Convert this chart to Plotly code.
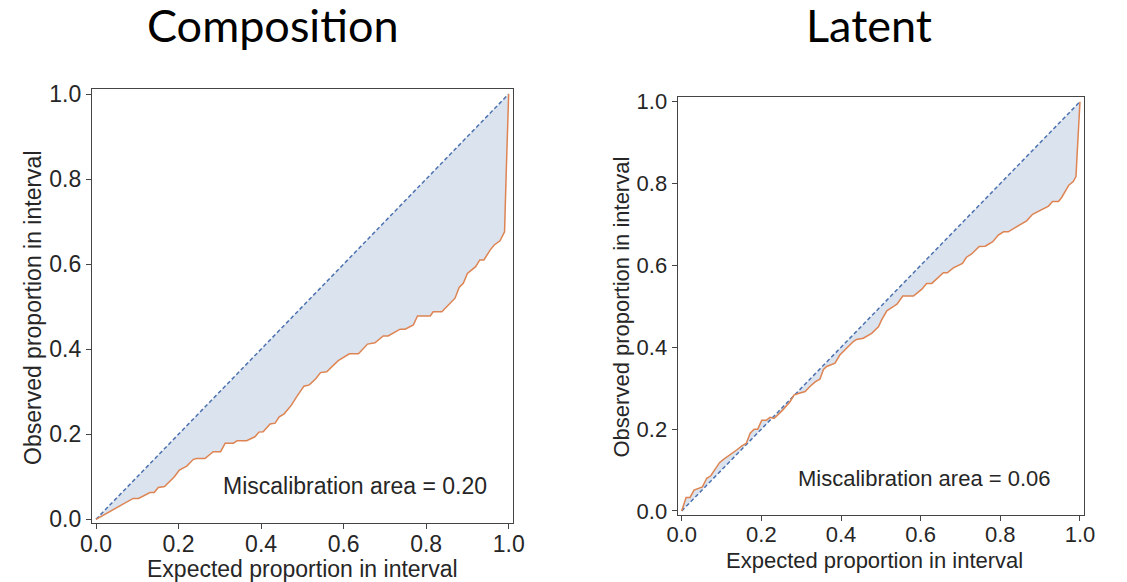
import plotly.graph_objects as go

# The page body adds an 8px margin, so the figure is drawn 8px in from the top-left corner.
OFF = 8
W, H = 1127 - OFF, 582 - OFF

# ---- data ----
diag = [0.0, 1.0]

comp_x = [0, 0.09, 0.103, 0.131, 0.141, 0.151, 0.166, 0.179, 0.19, 0.202, 0.22, 0.236, 0.244, 0.264,
          0.272, 0.284, 0.302, 0.313, 0.333, 0.342, 0.365, 0.385, 0.395, 0.405, 0.422, 0.434, 0.444,
          0.456, 0.474, 0.486, 0.504, 0.517, 0.533, 0.544, 0.559, 0.575, 0.587, 0.614, 0.636, 0.658,
          0.676, 0.696, 0.708, 0.737, 0.749, 0.769, 0.779, 0.81, 0.817, 0.838, 0.854, 0.87, 0.88,
          0.89, 0.9, 0.91, 0.92, 0.93, 0.94, 0.955, 0.965, 0.979, 0.985, 0.99, 0.994, 1.0]
comp_y = [0, 0.049, 0.049, 0.063, 0.063, 0.075, 0.077, 0.089, 0.10, 0.116, 0.125, 0.141, 0.143, 0.143,
          0.149, 0.159, 0.159, 0.179, 0.179, 0.185, 0.185, 0.194, 0.205, 0.206, 0.224, 0.226, 0.241,
          0.248, 0.269, 0.288, 0.313, 0.316, 0.331, 0.345, 0.347, 0.363, 0.373, 0.389, 0.389, 0.412,
          0.415, 0.431, 0.431, 0.447, 0.447, 0.457, 0.478, 0.478, 0.488, 0.488, 0.504, 0.52, 0.545,
          0.555, 0.578, 0.586, 0.594, 0.61, 0.61, 0.633, 0.645, 0.655, 0.665, 0.676, 0.813, 1.0]

lat_x = [0, 0.011, 0.021, 0.031, 0.052, 0.063, 0.073, 0.095, 0.105, 0.117, 0.126, 0.138, 0.151, 0.162,
         0.172, 0.182, 0.191, 0.201, 0.213, 0.222, 0.232, 0.251, 0.272, 0.282, 0.293, 0.31, 0.322,
         0.336, 0.347, 0.356, 0.364, 0.385, 0.397, 0.408, 0.418, 0.431, 0.439, 0.456, 0.477, 0.494,
         0.502, 0.515, 0.531, 0.541, 0.555, 0.582, 0.603, 0.615, 0.628, 0.644, 0.657, 0.667, 0.682,
         0.705, 0.715, 0.728, 0.747, 0.762, 0.781, 0.795, 0.808, 0.82, 0.845, 0.866, 0.881, 0.9,
         0.921, 0.931, 0.946, 0.954, 0.965, 0.972, 0.983, 0.99, 0.993, 1.0]
lat_y = [0, 0.033, 0.033, 0.051, 0.059, 0.080, 0.086, 0.118, 0.126, 0.134, 0.141, 0.149, 0.159, 0.165,
         0.19, 0.2, 0.2, 0.222, 0.222, 0.229, 0.226, 0.244, 0.267, 0.283, 0.287, 0.292, 0.304,
         0.316, 0.322, 0.346, 0.353, 0.361, 0.381, 0.392, 0.401, 0.414, 0.419, 0.422, 0.434, 0.45,
         0.467, 0.489, 0.499, 0.506, 0.525, 0.525, 0.542, 0.556, 0.556, 0.57, 0.582, 0.582, 0.594,
         0.605, 0.62, 0.628, 0.646, 0.647, 0.658, 0.674, 0.682, 0.682, 0.697, 0.709, 0.725, 0.734,
         0.745, 0.756, 0.756, 0.766, 0.784, 0.796, 0.805, 0.817, 0.874, 1.0]

tick_vals = [0.0, 0.2, 0.4, 0.6, 0.8, 1.0]
tick_text = ["0.0", "0.2", "0.4", "0.6", "0.8", "1.0"]
titles = ["Composition", "Latent"]
areas = ["Miscalibration area = 0.20", "Miscalibration area = 0.06"]
x_label = "Expected proportion in interval"
y_label = "Observed proportion in interval"

# ---- styles ----
ORANGE = "#dd8452"
BLUE = "#4c72b0"
FILL = "#dbe3ef"
SPINE = "#444444"
TXT = "#262626"
FONT = "Liberation Sans, Arial"

fig = go.Figure()

panels = [
    dict(xs=comp_x, ys=comp_y, xa="x", ya="y"),
    dict(xs=lat_x, ys=lat_y, xa="x2", ya="y2"),
]
for p in panels:
    fig.add_trace(go.Scatter(x=p["xs"] + diag[::-1], y=p["ys"] + diag[::-1], fill="toself",
                             fillcolor=FILL, line=dict(width=0), mode="lines",
                             xaxis=p["xa"], yaxis=p["ya"], hoverinfo="skip", showlegend=False))
    fig.add_trace(go.Scatter(x=diag, y=diag, mode="lines",
                             line=dict(color=BLUE, width=1.5, dash="4px,2.5px"),
                             xaxis=p["xa"], yaxis=p["ya"], showlegend=False))
    fig.add_trace(go.Scatter(x=p["xs"], y=p["ys"], mode="lines",
                             line=dict(color=ORANGE, width=1.5),
                             xaxis=p["xa"], yaxis=p["ya"], showlegend=False))


def px(v):
    return (v - OFF) / W


def py(v):
    return 1 - (v - OFF) / H


def axis(domain, rng, anchor, size, standoff=0):
    return dict(showgrid=False, zeroline=False, showline=True, mirror=True, linecolor=SPINE,
                linewidth=1.2, ticks="outside", ticklen=5, tickwidth=1.2, tickcolor=SPINE,
                tickvals=tick_vals, ticktext=tick_text, automargin=False,
                ticklabelstandoff=standoff,
                tickfont=dict(family=FONT, color=TXT, size=size),
                domain=domain, range=rng, anchor=anchor)


fig.update_layout(
    width=W, height=H, margin=dict(l=0, r=0, t=0, b=0, autoexpand=False),
    paper_bgcolor="white", plot_bgcolor="white",
    xaxis=axis([px(92), px(513.3)], [-0.0097, 1.0112], "y", 23, -5),
    yaxis=axis([py(523.3), py(89.3)], [-0.0094, 1.0111], "x", 23),
    xaxis2=axis([px(677.7), px(1084)], [-0.010, 1.0101], "y2", 22, -6),
    yaxis2=axis([py(515), py(96.7)], [-0.0098, 1.0122], "x2", 22),
)

ann = []
for t, cx in zip(titles, [273, 869]):
    ann.append(dict(text=t, x=px(cx), y=py(25), xref="paper", yref="paper", showarrow=False,
                    xanchor="center", yanchor="middle",
                    font=dict(family="Lato", size=45, color="black")))
for t, cx, cy, s in zip(areas, [355, 924.7], [486, 478.5], [23, 22]):
    ann.append(dict(text=t, x=px(cx), y=py(cy), xref="paper", yref="paper", showarrow=False,
                    xanchor="center", yanchor="middle",
                    font=dict(family=FONT, size=s, color=TXT)))
for cx, cy, s in [(302, 568.5, 23), (874.7, 560.5, 22)]:
    ann.append(dict(text=x_label, x=px(cx), y=py(cy), xref="paper", yref="paper", showarrow=False,
                    xanchor="center", yanchor="middle",
                    font=dict(family=FONT, size=s, color=TXT)))
for cx, cy, s in [(33, 308, 23), (621, 307.5, 22)]:
    ann.append(dict(text=y_label, x=px(cx), y=py(cy), xref="paper", yref="paper", showarrow=False,
                    xanchor="center", yanchor="middle", textangle=-90,
                    font=dict(family=FONT, size=s, color=TXT)))
fig.update_layout(annotations=ann)

fig.write_html("out.html")
